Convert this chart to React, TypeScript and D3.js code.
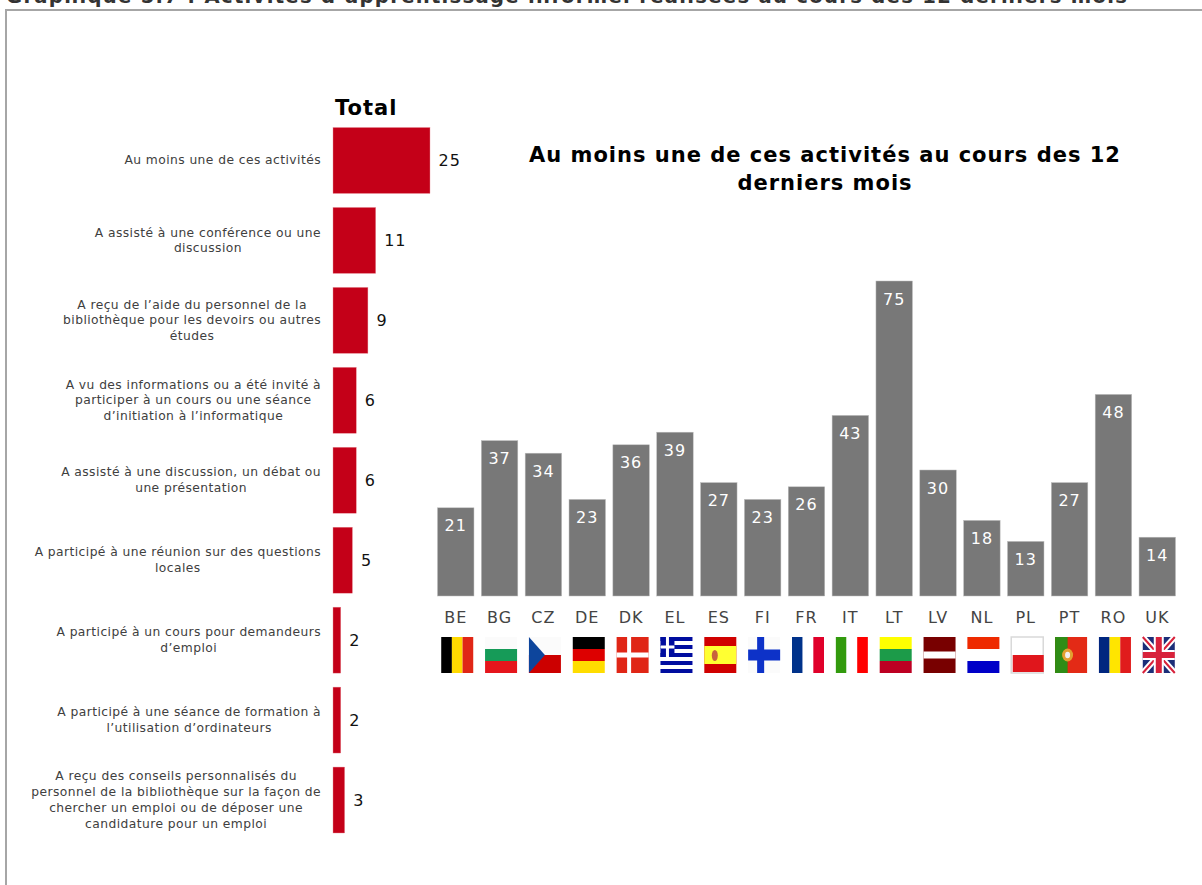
import React from "react";
import * as d3 from "d3";

const FONT = "'DejaVu Sans', Verdana, sans-serif";
const TITLE = "Graphique 5.7 : Activités d’apprentissage informel réalisées au cours des 12 derniers mois";

const activityLines: string[][] = [
  ["Au moins une de ces activités"],
  ["A assisté à une conférence ou une", "discussion"],
  ["A reçu de l’aide du personnel de la", "bibliothèque pour les devoirs ou autres", "études"],
  ["A vu des informations ou a été invité à", "participer à un cours ou une séance", "d’initiation à l’informatique"],
  ["A assisté à une discussion, un débat ou", "une présentation"],
  ["A participé à une réunion sur des questions", "locales"],
  ["A participé à un cours pour demandeurs", "d’emploi"],
  ["A participé à une séance de formation à", "l’utilisation d’ordinateurs"],
  ["A reçu des conseils personnalisés du", "personnel de la bibliothèque sur la façon de", "chercher un emploi ou de déposer une", "candidature pour un emploi"],
];
const activityValues = [25, 11, 9, 6, 6, 5, 2, 2, 3];

const countries = ["BE", "BG", "CZ", "DE", "DK", "EL", "ES", "FI", "FR", "IT", "LT", "LV", "NL", "PL", "PT", "RO", "UK"];
const countryValues = [21, 37, 34, 23, 36, 39, 27, 23, 26, 43, 75, 30, 18, 13, 27, 48, 14];

const W = 1202;
const H = 885;

const xRed = d3.scaleLinear().domain([0, 25]).range([333, 430]);
const yRed = d3.scaleBand<number>().domain(d3.range(activityValues.length)).range([120.5, 840]).paddingInner(0.175).paddingOuter(0.0875);
const xGray = d3.scaleBand<string>().domain(countries).range([433.8, 1179.2]).paddingInner(0.168).paddingOuter(0.084);
const yGray = d3.scaleLinear().domain([0, 75]).range([596, 281]);

const ctx = typeof document !== "undefined" ? document.createElement("canvas").getContext("2d") : null;
const LABEL_FONT_SIZE = 12.3;
const LABEL_SPACING = 0.43;
function textWidth(s: string) {
  if (!ctx) return s.length * 6.5;
  ctx.font = `${LABEL_FONT_SIZE}px 'DejaVu Sans'`;
  return ctx.measureText(s).width + s.length * LABEL_SPACING;
}

function Stripes({ colors, vertical }: { colors: string[]; vertical?: boolean }) {
  const s = d3.scaleBand<number>().domain(d3.range(colors.length)).range([0, vertical ? 32 : 36]);
  return (
    <g>
      {colors.map((c, i) =>
        vertical ? (
          <rect key={i} x={s(i)} y={0} width={s.bandwidth()} height={36} fill={c} />
        ) : (
          <rect key={i} x={0} y={s(i)} width={32} height={s.bandwidth()} fill={c} />
        )
      )}
    </g>
  );
}

function Flag({ code }: { code: string }) {
  switch (code) {
    case "BE": return <Stripes vertical colors={["#000000", "#FFD900", "#E02515"]} />;
    case "BG": return <Stripes colors={["#FBFBFB", "#139B58", "#E5171F"]} />;
    case "CZ": return (
      <g>
        <Stripes colors={["#FBFBFB", "#CC0000"]} />
        <path d="M0 0L16 18L0 36Z" fill="#11459C" />
      </g>
    );
    case "DE": return <Stripes colors={["#000000", "#DD0000", "#FFDD00"]} />;
    case "DK": return (
      <g>
        <rect width={32} height={36} fill="#E02515" />
        <rect x={10.5} width={4} height={36} fill="#FFFFFF" />
        <rect y={15.5} width={32} height={5} fill="#FFFFFF" />
      </g>
    );
    case "EL": return (
      <g>
        <Stripes colors={["#000F9F", "#FFFFFF", "#000F9F", "#FFFFFF", "#000F9F", "#FFFFFF", "#000F9F", "#FFFFFF", "#000F9F"]} />
        <rect width={14} height={20} fill="#000F9F" />
        <rect x={5.5} width={3} height={20} fill="#FFFFFF" />
        <rect y={8.5} width={14} height={3} fill="#FFFFFF" />
      </g>
    );
    case "ES": return (
      <g>
        <rect width={32} height={36} fill="#D00000" />
        <rect y={9} width={32} height={18} fill="#FFFF33" />
        <ellipse cx={10.5} cy={18.5} rx={3} ry={5.5} fill="#C8643C" />
      </g>
    );
    case "FI": return (
      <g>
        <rect width={32} height={36} fill="#FBFBFB" />
        <rect x={9} width={7} height={36} fill="#0A30C8" />
        <rect y={12.5} width={32} height={11} fill="#0A30C8" />
      </g>
    );
    case "FR": return <Stripes vertical colors={["#00308A", "#FFFFFF", "#E0002A"]} />;
    case "IT": return <Stripes vertical colors={["#329A0E", "#FFFFFF", "#FF0000"]} />;
    case "LT": return <Stripes colors={["#FFFF00", "#1F9B4A", "#BD0021"]} />;
    case "LV": return (
      <g>
        <rect width={32} height={36} fill="#780000" />
        <rect y={14.5} width={32} height={7} fill="#FFFFFF" />
      </g>
    );
    case "NL": return <Stripes colors={["#EE2A00", "#FFFFFF", "#0000C8"]} />;
    case "PL": return (
      <g>
        <rect width={32} height={36} fill="#FFFFFF" stroke="#D9D9D9" strokeWidth={1.5} />
        <rect x={1.5} y={18} width={31} height={17} fill="#E0151A" />
      </g>
    );
    case "PT": return (
      <g>
        <rect width={32} height={36} fill="#E32B12" />
        <rect width={12.5} height={36} fill="#2E8C12" />
        <ellipse cx={12.5} cy={18} rx={5.5} ry={6.5} fill="#E2A030" />
        <ellipse cx={12.5} cy={18} rx={2.5} ry={3.2} fill="#F0F0F0" />
      </g>
    );
    case "RO": return <Stripes vertical colors={["#00287F", "#FFE500", "#E01A1A"]} />;
    default: return (
      <g>
        <rect width={32} height={36} fill="#1E2F78" />
        <path d="M0 0L32 36M32 0L0 36" stroke="#FFFFFF" strokeWidth={6} />
        <path d="M0 0L32 36M32 0L0 36" stroke="#D8203A" strokeWidth={2} />
        <path d="M16 0V36M0 18H32" stroke="#FFFFFF" strokeWidth={10} />
        <path d="M16 0V36M0 18H32" stroke="#D8203A" strokeWidth={6} />
      </g>
    );
  }
}

export default function App() {
  return (
    <svg width={W} height={H} viewBox={`0 0 ${W} ${H}`} style={{ position: "absolute", left: 0, top: 0, background: "#fff", fontFamily: FONT }}>
      <defs>
        <filter id="soft" x="-5%" y="-5%" width="110%" height="110%">
          <feGaussianBlur stdDeviation={0.4} />
        </filter>
      </defs>
      <text x={6} y={3} fontWeight={700} fontSize={19.6} textLength={1121} lengthAdjust="spacing" fill="#333333">{TITLE}</text>
      <path d={`M6 ${H + 4}V10H${W + 4}`} fill="none" stroke="#A6A6A6" strokeWidth={2} />

      <text x={335} y={115} fontWeight={700} fontSize={21} letterSpacing={1} fill="#000">Total</text>

      {activityValues.map((v, i) => {
        const lines = activityLines[i];
        const y0 = yRed(i)!;
        const cy = y0 + yRed.bandwidth() / 2;
        const maxW = d3.max(lines, textWidth)!;
        const cx = 321 - maxW / 2;
        const lh = 15.8;
        return (
          <g key={i}>
            <rect x={xRed(0)} y={y0} width={xRed(v) - xRed(0)} height={yRed.bandwidth()} fill="#C40018" stroke="#E8909A" strokeWidth={0.4} />
            <text x={xRed(v) + 8.5} y={cy + 1.5} dominantBaseline="middle" fontSize={16} letterSpacing={1} fill="#111">{v}</text>
            {lines.map((l, j) => (
              <text key={j} x={cx} y={cy + 0.5 + (j - (lines.length - 1) / 2) * lh} textAnchor="middle" dominantBaseline="middle" fontSize={LABEL_FONT_SIZE} letterSpacing={LABEL_SPACING} fill="#404040">{l}</text>
            ))}
          </g>
        );
      })}

      <text x={825} y={162} textAnchor="middle" fontWeight={700} fontSize={21} letterSpacing={1} fill="#000">Au moins une de ces activités au cours des 12</text>
      <text x={825} y={190} textAnchor="middle" fontWeight={700} fontSize={21} letterSpacing={1} fill="#000">derniers mois</text>

      {countries.map((c, i) => {
        const v = countryValues[i];
        const x = xGray(c)!;
        const bw = xGray.bandwidth();
        const cx = x + bw / 2;
        return (
          <g key={c}>
            <rect x={x} y={yGray(v)} width={bw} height={yGray(0) - yGray(v)} fill="#787878" stroke="#BDBDBD" strokeWidth={0.5} />
            <text x={cx} y={yGray(v) + 19} textAnchor="middle" dominantBaseline="middle" fontSize={16} letterSpacing={1} fill="#FFFFFF">{v}</text>
            <text x={cx} y={618} textAnchor="middle" dominantBaseline="middle" fontSize={16} letterSpacing={1} fill="#444444">{c}</text>
            <g transform={`translate(${cx - 14.5},637)`} filter="url(#soft)"><Flag code={c} /></g>
          </g>
        );
      })}
    </svg>
  );
}
